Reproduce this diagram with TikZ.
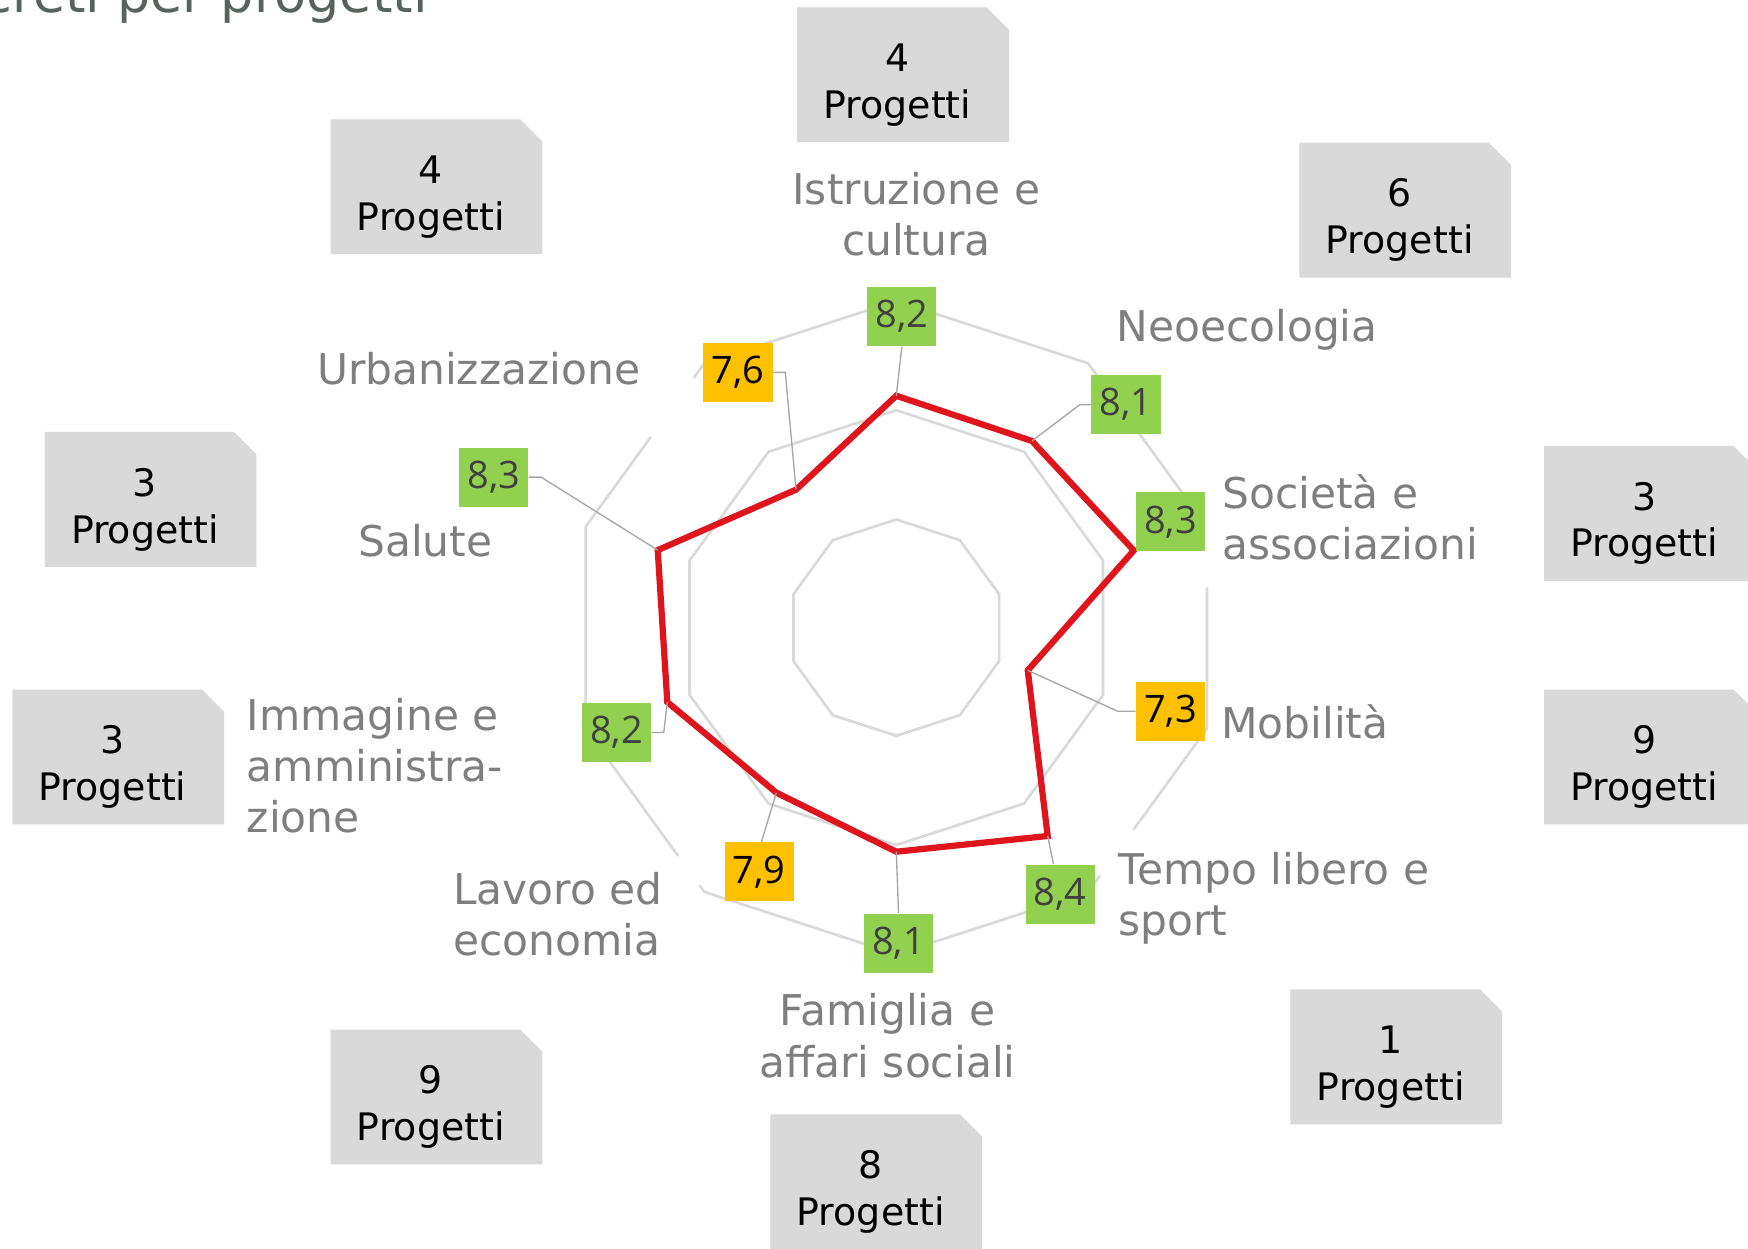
\documentclass[tikz,border=0pt]{standalone}
\usepackage{fontspec}
\setmainfont{DejaVu Sans}
\newfontfamily\numfont{Open Sans}
\usetikzlibrary{calc}
\definecolor{ringgray}{HTML}{D9D9D9}
\definecolor{labgray}{HTML}{7F7F7F}
\definecolor{boxgray}{HTML}{D9D9D9}
\definecolor{vgreen}{HTML}{92D050}
\definecolor{vorange}{HTML}{FFC000}
\definecolor{redline}{HTML}{DF151E}
\definecolor{leadgray}{HTML}{A6A6A6}
\definecolor{numdark}{HTML}{404040}
\definecolor{titlecol}{HTML}{59635E}
\newcommand\projbox[4]{%
  \fill[boxgray] (#2-95,#3-60.5) -- (#2+75,#3-60.5) -- (#2+95,#3-40.5) -- (#2+95,#3+60.5) -- (#2-95,#3+60.5) -- cycle;
  \node[ptext] (#1) at (#2-5,#3+9) {#4\\Progetti};}
\begin{document}
\begin{tikzpicture}[x=0.5pt,y=-0.5pt,
  ring/.style={draw=ringgray,line width=1.2pt,line join=round},
  series/.style={draw=redline,line width=2.8pt,line join=miter},
  leader/.style={draw=leadgray,line width=0.6pt},
  cat/.style={text=labgray,font=\fontsize{19}{23}\selectfont,inner sep=0pt},
  vbox/.style={minimum width=31pt,minimum height=26.5pt,inner sep=0pt,font=\numfont\fontsize{17}{20}\selectfont},
  vg/.style={vbox,fill=vgreen,text=numdark},
  vo/.style={vbox,fill=vorange,text=black},
  ptext/.style={align=center,font=\fontsize{17}{21}\selectfont,inner sep=0pt,text=black},
  titlestyle/.style={font=\fontsize{23.5}{28}\selectfont,text=titlecol,inner sep=0pt}
]
\useasboundingbox (0,0) rectangle (1568,1120);

% radar grid and data points
\begin{scope}[shift={(804,563)},x=0.5pt,y=0.5pt]
  \foreach \R in {97,195} {
    \draw[ring] (90:\R) \foreach \a in {54,18,-18,-54,-90,-126,-162,-198,-234} { -- (\a:\R) } -- cycle;
  }
  \foreach \a [count=\i from 0] in {90,54,18,-18,-54,-90,-126,-162,162,126}
    \coordinate (V\i) at (\a:293);
  \foreach \a/\r [count=\i from 0] in {90/208,54/207,18/224,-18/124,-54/231,-90/201,-126/183,-162/216,162/225,126/153}
    \coordinate (p\i) at (\a:\r);
\end{scope}

% outer ring (partly hidden behind labels)
\draw[ring] ($(V9)!0.09!(V8)$) -- (V9) -- (V0) -- (V1) -- ($(V1)!0.8!(V2)$);
\draw[ring] ($(V3)!0.70!(V2)$) -- (V3) -- ($(V3)!0.62!(V4)$);
\draw[ring] ($(V4)!0.10!(V3)$) -- (V4) -- (V5) -- (V6) -- ($(V6)!0.04!(V7)$);
\draw[ring] ($(V7)!0.78!(V6)$) -- (V7) -- (V8) -- ($(V8)!0.55!(V9)$);

% series
\draw[series] (p0) -- (p1) -- (p2) -- (p3) -- (p4) -- (p5) -- (p6) -- (p7) -- (p8) -- (p9) -- cycle;

% value boxes
\node[vg] (v0) at (809,284) {8,2};
\node[vg] (v1) at (1010,363) {8,1};
\node[vg] (v2) at (1050,468) {8,3};
\node[vo] (v3) at (1050,638) {7,3};
\node[vg] (v4) at (951,802) {8,4};
\node[vg] (v5) at (806,846) {8,1};
\node[vo] (v6) at (681,782) {7,9};
\node[vg] (v7) at (553,657) {8,2};
\node[vg] (v8) at (443,428) {8,3};
\node[vo] (v9) at (662,334) {7,6};

% leader lines
\draw[leader] (v0.south) -- (p0);
\draw[leader] (v1.west) -- ++(-10,0) -- (p1);
\draw[leader] (v3.west) -- ++(-16,0) -- (p3);
\draw[leader] ([xshift=-3pt]v4.north) -- (p4);
\draw[leader] (v5.north) -- (p5);
\draw[leader] ([xshift=1pt]v6.north) -- (p6);
\draw[leader] (v7.east) -- ++(11,0) -- (p7);
\draw[leader] (v8.east) -- ++(11,0) -- (p8);
\draw[leader] (v9.east) -- ++(11,0) -- (p9);

% category labels
\node[cat,align=center] (l0) at (822,192) {Istruzione e\\cultura};
\node[cat,anchor=base west] (l1) at (1001,306) {Neoecologia};
\node[cat,align=left,anchor=west] (l2) at (1096,464) {Società e\\associazioni};
\node[cat,anchor=base west] (l3) at (1095,662) {Mobilità};
\node[cat,align=left,anchor=west] (l4) at (1003,806) {Tempo libero e\\sport};
\node[cat,align=center] (l5) at (796,929) {Famiglia e\\affari sociali};
\node[cat,align=left,anchor=west] (l6) at (406,820) {Lavoro ed\\economia};
\node[cat,align=left,anchor=west] (l7) at (221,687) {Immagine e\\amministra-\\zione};
\node[cat,anchor=base east] (l8) at (442,499) {Salute};
\node[cat,anchor=base west] (l9) at (284,345) {Urbanizzazione};

% project count boxes
\projbox{b0}{810}{67}{4}
\projbox{b1}{391.5}{167.5}{4}
\projbox{b2}{1260.5}{188.5}{6}
\projbox{b3}{135}{448}{3}
\projbox{b4}{1480}{460.5}{3}
\projbox{b5}{106}{679}{3}
\projbox{b6}{1480}{679}{9}
\projbox{b7}{1252.5}{948}{1}
\projbox{b8}{391.5}{984}{9}
\projbox{b9}{786}{1060}{8}

% title (cut off at the top)
\node[titlestyle,anchor=base east] (title) at (384,11) {creti per progetti};
\end{tikzpicture}
\end{document}
